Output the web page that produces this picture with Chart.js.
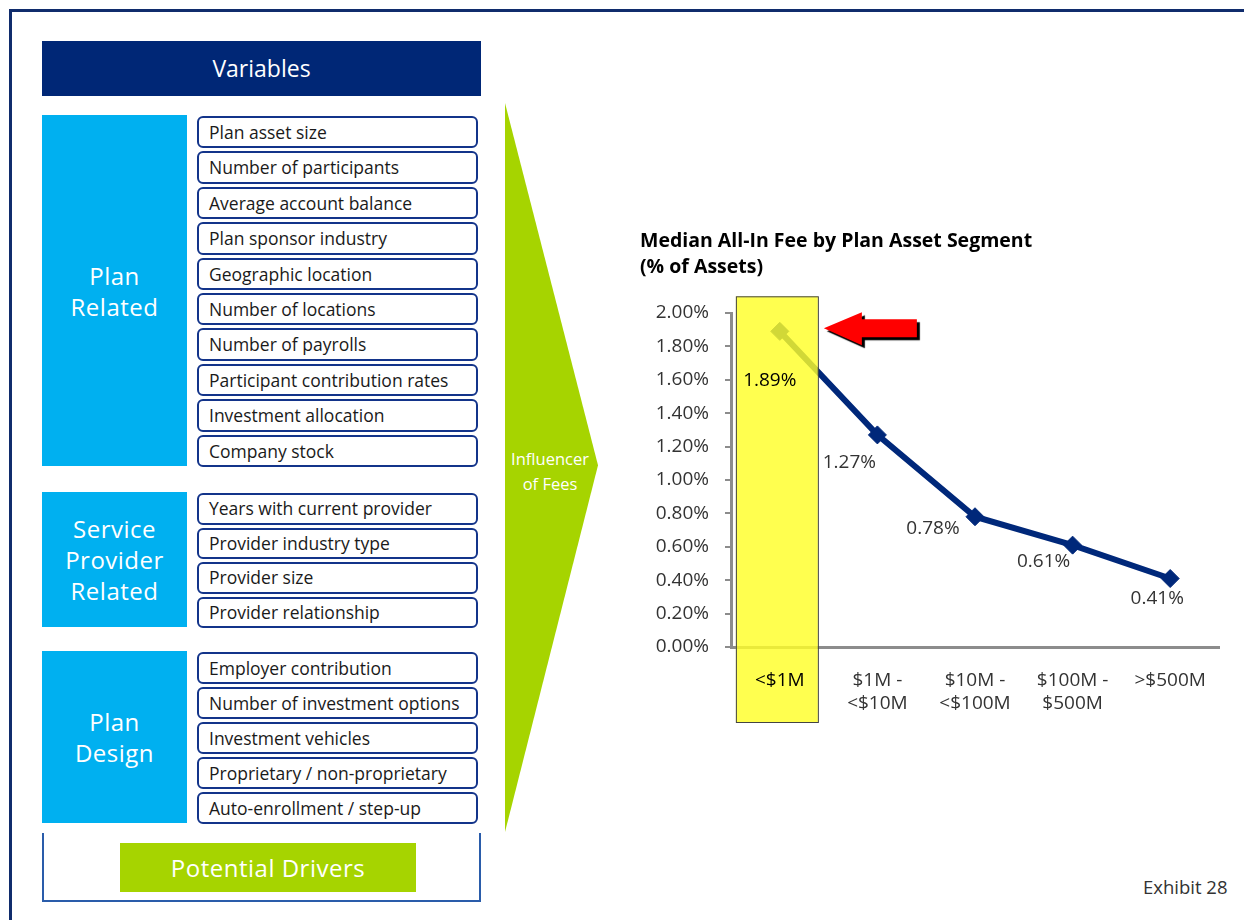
<!DOCTYPE html>
<html>
<head>
<meta charset="utf-8">
<script src="https://cdn.jsdelivr.net/npm/chart.js@4"></script>
<style>
  body { margin: 0; width: 1244px; height: 920px; overflow: hidden; background: #fff; font-family: 'Open Sans', sans-serif; position: relative; }
  .abs { position: absolute; }
  #frame { left: 9px; top: 9px; width: 1300px; height: 1000px; border-top: 3px solid #102c6c; border-left: 3px solid #102c6c; }
  #variables { left: 42px; top: 41px; width: 439px; height: 55px; background: #002776; color: #fff; font-size: 23px; line-height: 55px; text-align: center; }
  .group { left: 42px; width: 145px; background: #00b0f0; color: #fff; font-size: 24px; line-height: 31px; text-align: center; display: flex; flex-direction: column; justify-content: center; letter-spacing: 0.5px; }
  .item { left: 197px; width: 281px; box-sizing: border-box; border: 2px solid #13348a; border-radius: 6px; padding-left: 10px; font-size: 17.5px; color: #1a1a1a; white-space: nowrap; }
  #bracket { left: 42px; top: 833px; width: 435px; height: 67px; border: 2px solid #2a5caa; border-top: none; }
  #drivers { left: 120px; top: 843px; width: 296px; height: 49px; background: #a6d400; color: #fff; font-size: 24px; line-height: 49px; text-align: center; letter-spacing: 0.5px; }
  #arrow { left: 505px; top: 103px; width: 93px; height: 729px; background: #a6d400; clip-path: polygon(0 0, 100% 49.7%, 0 100%); }
  #influencer { left: 503px; top: 446px; width: 94px; text-align: center; color: #fff; font-size: 16.5px; line-height: 25px; }
  #exhibit { left: 1143px; top: 874px; font-size: 18.5px; color: #333; }
  #chartBox { left: 636px; top: 228px; width: 600px; height: 520px; }
</style>
</head>
<body>
<div id="frame" class="abs"></div>
<div id="variables" class="abs">Variables</div>
<div id="panel"></div>
<div id="bracket" class="abs"></div>
<div id="drivers" class="abs">Potential Drivers</div>
<div id="arrow" class="abs"></div>
<div id="influencer" class="abs">Influencer<br>of Fees</div>
<div id="exhibit" class="abs">Exhibit 28</div>
<div id="chartBox" class="abs"><canvas id="feeChart" width="600" height="520"></canvas></div>

<script>
// chart data
const segmentLabels = [['<$1M'], ['$1M -', '<$10M'], ['$10M -', '<$100M'], ['$100M -', '$500M'], ['>$500M']];
const medianFees = [1.89, 1.27, 0.78, 0.61, 0.41];
const chartTitle = ['Median All-In Fee by Plan Asset Segment', '(% of Assets)'];

// left panel text
const planRelated = ['Plan asset size', 'Number of participants', 'Average account balance', 'Plan sponsor industry',
  'Geographic location', 'Number of locations', 'Number of payrolls', 'Participant contribution rates',
  'Investment allocation', 'Company stock'];
const serviceRelated = ['Years with current provider', 'Provider industry type', 'Provider size', 'Provider relationship'];
const planDesign = ['Employer contribution', 'Number of investment options', 'Investment vehicles',
  'Proprietary / non-proprietary', 'Auto-enrollment / step-up'];
const groupTitles = [['Plan', 'Related'], ['Service', 'Provider', 'Related'], ['Plan', 'Design']];

const groupTops = [115, 492, 651];
const groupBottoms = [466, 627, 823];
const ITEM_GAP = 3;

function buildPanel() {
    const panel = document.getElementById('panel');
    const lists = [planRelated, serviceRelated, planDesign];
    lists.forEach((items, g) => {
        const top = groupTops[g];
        const h = groupBottoms[g] - top;
        const block = document.createElement('div');
        block.className = 'abs group';
        block.style.top = top + 'px';
        block.style.height = h + 'px';
        block.innerHTML = groupTitles[g].map(t => `<div>${t}</div>`).join('');
        panel.appendChild(block);

        const step = (h + ITEM_GAP) / items.length;
        items.forEach((text, i) => {
            const box = document.createElement('div');
            box.className = 'abs item';
            const boxH = step - ITEM_GAP;
            box.style.top = (top + 1 + i * step) + 'px';
            box.style.height = boxH + 'px';
            box.style.lineHeight = (boxH - 4) + 'px';
            box.textContent = text;
            panel.appendChild(box);
        });
    });
}

// offsets of the value labels from their points, like the original
const valueLabelOffsets = [[-10, 49], [-28, 28], [-42, 12], [-29, 16], [-13, 20]];
const CHART_FONT = '19px "Open Sans"';

const highlightPlugin = {
    id: 'highlight',
    afterDatasetsDraw(chart) {
        const ctx = chart.ctx;
        const x = chart.scales.x;
        const y = chart.scales.y;
        const area = chart.chartArea;
        const band = x.width / segmentLabels.length;
        const cx = x.getPixelForValue(0);

        // yellow box over the smallest segment
        const left = cx - band * 0.45;
        const right = cx + band * 0.39;
        const top = y.getPixelForValue(2.1);
        const bottom = area.bottom + 75;
        ctx.save();
        ctx.fillStyle = 'rgba(255, 255, 40, 0.82)';
        ctx.fillRect(left, top, right - left, bottom - top);
        ctx.strokeStyle = '#444';
        ctx.lineWidth = 1;
        ctx.strokeRect(left + 0.5, top + 0.5, right - left, bottom - top);

        // value labels
        ctx.font = CHART_FONT;
        ctx.textAlign = 'center';
        ctx.textBaseline = 'middle';
        medianFees.forEach((v, i) => {
            const px = x.getPixelForValue(i) + valueLabelOffsets[i][0];
            const py = y.getPixelForValue(v) + valueLabelOffsets[i][1];
            ctx.fillStyle = i === 0 ? '#000' : '#333';
            ctx.fillText(v.toFixed(2) + '%', px, py);
        });

        // category labels
        segmentLabels.forEach((lines, i) => {
            const px = x.getPixelForValue(i);
            ctx.fillStyle = i === 0 ? '#000' : '#333';
            lines.forEach((line, j) => {
                ctx.fillText(line, px, area.bottom + 34 + j * 23);
            });
        });

        // red arrow pointing at the first point
        const tipX = right + 6;
        const tipY = y.getPixelForValue(medianFees[0]) - 3;
        ctx.shadowColor = '#000';
        ctx.shadowOffsetX = 3;
        ctx.shadowOffsetY = 3;
        ctx.shadowBlur = 1;
        ctx.fillStyle = '#ff0000';
        ctx.beginPath();
        ctx.moveTo(tipX, tipY);
        ctx.lineTo(tipX + 38, tipY - 16);
        ctx.lineTo(tipX + 38, tipY - 9);
        ctx.lineTo(tipX + 93, tipY - 9);
        ctx.lineTo(tipX + 93, tipY + 9);
        ctx.lineTo(tipX + 38, tipY + 9);
        ctx.lineTo(tipX + 38, tipY + 17);
        ctx.closePath();
        ctx.fill();
        ctx.restore();
    }
};

function drawChart() {
    const ctx = document.getElementById('feeChart').getContext('2d');
    new Chart(ctx, {
        type: 'line',
        data: {
            labels: segmentLabels,
            datasets: [{
                data: medianFees,
                borderColor: '#00287a',
                backgroundColor: '#00287a',
                borderWidth: 6,
                pointStyle: 'rectRot',
                pointRadius: 9,
                pointBorderWidth: 1,
                tension: 0,
            }],
        },
        options: {
            responsive: false,
            animation: false,
            devicePixelRatio: 1,
            layout: { padding: { left: 4, right: 17, top: 0, bottom: 0 } },
            scales: {
                x: {
                    offset: true,
                    grid: { display: false },
                    border: { display: true, color: '#8c8c8c', width: 3 },
                    ticks: { display: false },
                    afterFit: (scale) => { scale.height = 101; },
                },
                y: {
                    min: 0,
                    max: 2,
                    grid: { drawOnChartArea: false, color: '#8c8c8c', lineWidth: 2, tickLength: 6 },
                    border: { color: '#8c8c8c', width: 3 },
                    ticks: {
                        stepSize: 0.2,
                        padding: 16,
                        color: '#333',
                        font: { family: 'Open Sans', size: 19 },
                        callback: (v) => v.toFixed(2) + '%',
                    },
                    afterFit: (scale) => { scale.width = 91; },
                },
            },
            plugins: {
                legend: { display: false },
                tooltip: { enabled: false },
                title: {
                    display: true,
                    text: chartTitle,
                    align: 'start',
                    color: '#000',
                    font: { family: 'Open Sans', size: 19.5, weight: 'bold', lineHeight: 26 / 19.5 },
                    padding: { top: 0, bottom: 33 },
                },
            },
        },
        plugins: [highlightPlugin],
    });
}

buildPanel();
drawChart();
</script>
</body>
</html>
